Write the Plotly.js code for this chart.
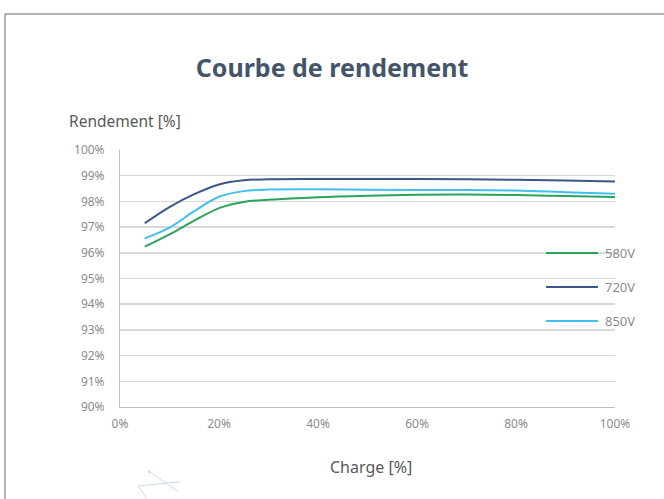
<!DOCTYPE html>
<html>
<head>
<meta charset="utf-8">
<script src="https://cdn.plot.ly/plotly-3.0.1.min.js"></script>
<style>html,body{margin:0;padding:0;background:#fff;}#chart{width:664px;height:499px;}</style>
</head>
<body>
<div id="chart"></div>
<script>
var charge = [5, 10, 15, 20, 25, 30, 40, 50, 60, 70, 80, 90, 100];
var eff580 = [96.24, 96.72, 97.25, 97.74, 97.98, 98.06, 98.16, 98.22, 98.26, 98.27, 98.25, 98.21, 98.17];
var eff720 = [97.15, 97.78, 98.28, 98.66, 98.82, 98.86, 98.87, 98.87, 98.87, 98.86, 98.84, 98.81, 98.77];
var eff850 = [96.56, 96.98, 97.62, 98.18, 98.40, 98.46, 98.47, 98.45, 98.44, 98.44, 98.42, 98.36, 98.30];
var seriesNames = ['580V', '720V', '850V'];
var seriesColors = ['#2aa35b', '#3b5688', '#41c0ef'];
var seriesData = [eff580, eff720, eff850];
var yTicks = [90, 91, 92, 93, 94, 95, 96, 97, 98, 99, 100];
var xTicks = [0, 20, 40, 60, 80, 100];

var traces = seriesData.map(function (d, i) {
  return {
    x: charge, y: d, type: 'scatter', mode: 'lines', name: seriesNames[i],
    line: {color: seriesColors[i], width: 2, shape: 'spline', smoothing: 1},
    hoverinfo: 'x+y'
  };
});

var legendY = [0.599, 0.467, 0.335];
var shapes = [
  {type: 'rect', xref: 'paper', yref: 'paper', x0: -0.2323, x1: 1.12, y0: -0.42, y1: 1.5292,
   line: {color: '#5f6b78', width: 1}, fillcolor: 'rgba(0,0,0,0)', layer: 'below'},
  // faint decorative strokes
  {type: 'line', xref: 'paper', yref: 'paper', x0: (149.3-120)/495, y0: (407-471.7)/257, x1: (178.3-120)/495, y1: (407-491.7)/257, line: {color: '#cbd9ef', width: 1}},
  {type: 'line', xref: 'paper', yref: 'paper', x0: (138.3-120)/495, y0: (407-486)/257, x1: (180-120)/495, y1: (407-481.7)/257, line: {color: '#cbd9ef', width: 1}},
  {type: 'line', xref: 'paper', yref: 'paper', x0: (138.3-120)/495, y0: (407-486)/257, x1: (146.7-120)/495, y1: (407-499)/257, line: {color: '#cbd9ef', width: 1}},
  {type: 'circle', xref: 'paper', yref: 'paper', x0: (147.8-120)/495, y0: (407-473.2)/257, x1: (150.8-120)/495, y1: (407-470.2)/257, line: {color: '#cbd9ef', width: 0}, fillcolor: '#cbd9ef'}
];
var annotations = [
  {text: 'Rendement [%]', xref: 'paper', yref: 'paper', x: -0.107, y: 1.113, xanchor: 'left', yanchor: 'middle',
   showarrow: false, font: {family: 'Noto Sans, sans-serif', size: 15.5, color: '#595959'}},
  {text: 'Charge [%]', xref: 'paper', yref: 'paper', x: 0.507, y: -0.233, xanchor: 'center', yanchor: 'middle',
   showarrow: false, font: {family: 'Noto Sans, sans-serif', size: 16, color: '#595959'}}
];
seriesNames.forEach(function (n, i) {
  shapes.push({type: 'line', xref: 'paper', yref: 'paper', x0: 0.8606, x1: 0.9657, y0: legendY[i], y1: legendY[i],
    line: {color: seriesColors[i], width: 2}});
  annotations.push({text: n, xref: 'paper', yref: 'paper', x: 0.9758, y: legendY[i], xanchor: 'left', yanchor: 'middle',
    showarrow: false, font: {family: 'Noto Sans, sans-serif', size: 13, color: '#8c8c8c'}});
});

var layout = {
  width: 664, height: 499,
  margin: {l: 120, r: 49, t: 150, b: 92},
  paper_bgcolor: '#ffffff', plot_bgcolor: '#ffffff',
  showlegend: false,
  title: {text: '<b>Courbe de rendement</b>', x: 0.5, xref: 'container', xanchor: 'center', y: 1 - 68/499, yanchor: 'middle',
    font: {family: 'Noto Sans, sans-serif', size: 25, color: '#44546a'}},
  xaxis: {range: [0, 100], tickvals: xTicks, ticktext: xTicks.map(function (v) { return v + '%'; }),
    showgrid: false, zeroline: false, showline: true, linecolor: '#bfbfbf', linewidth: 1,
    ticks: '', ticklabelstandoff: 6, fixedrange: true,
    tickfont: {family: 'Noto Sans, sans-serif', size: 12, color: '#8c8c8c'}},
  yaxis: {range: [90, 100], tickvals: yTicks, ticktext: yTicks.map(function (v) { return v + '%'; }),
    showgrid: true, gridcolor: '#d9d9d9', gridwidth: 1.5, zeroline: false, showline: true, linecolor: '#bfbfbf', linewidth: 1,
    ticks: '', ticklabelstandoff: 12, fixedrange: true,
    tickfont: {family: 'Noto Sans, sans-serif', size: 12, color: '#8c8c8c'}},
  shapes: shapes,
  annotations: annotations
};
Plotly.newPlot('chart', traces, layout, {displayModeBar: false, staticPlot: true});
</script>
</body>
</html>
